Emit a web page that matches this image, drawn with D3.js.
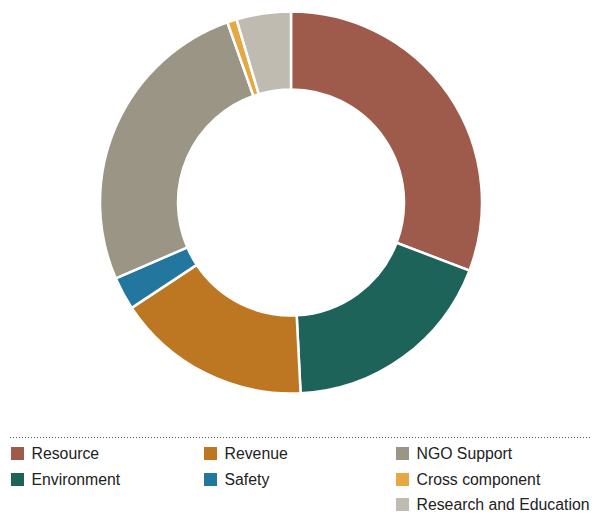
<!DOCTYPE html>
<html>
<head>
<meta charset="utf-8">
<script src="https://cdn.jsdelivr.net/npm/d3@7"></script>
<style>
  html, body { margin: 0; padding: 0; background: #fff; }
  svg { display: block; }
  text { font-family: "Liberation Sans", Arial, sans-serif; }
</style>
</head>
<body>
<svg id="chart" width="596" height="518"></svg>
<script>
// Share of spending by component (percent)
const categories = ["Resource", "Environment", "Revenue", "Safety", "NGO Support", "Cross component", "Research and Education"];
const shares = [30.8, 18.4, 16.5, 2.8, 26.1, 0.8, 4.6];
const colors = ["#9e5a4a", "#1d6359", "#bd7722", "#23779f", "#9a9584", "#e5a843", "#c0bbb0"];

// Legend layout order (three columns)
const legendOrder = ["Resource", "Revenue", "NGO Support", "Environment", "Safety", "Cross component", "Research and Education"];

const svg = d3.select("#chart");
const cx = 291, cy = 202.5, outerR = 191, innerR = 113;

const color = d3.scaleOrdinal().domain(categories).range(colors);

const data = categories.map((c, i) => ({ name: c, value: shares[i] }));

const pie = d3.pie().sort(null).value(d => d.value);
const arc = d3.arc().innerRadius(innerR).outerRadius(outerR);

svg.append("g")
  .attr("transform", `translate(${cx},${cy})`)
  .selectAll("path")
  .data(pie(data))
  .join("path")
  .attr("d", arc)
  .attr("fill", d => color(d.data.name))
  .attr("stroke", "#fff")
  .attr("stroke-width", 2.5);

// Dotted separator above the legend
svg.append("line")
  .attr("x1", 10).attr("x2", 590)
  .attr("y1", 437.5).attr("y2", 437.5)
  .attr("stroke", "#555")
  .attr("stroke-width", 1)
  .attr("stroke-dasharray", "1,2");

const colX = [11, 204, 396];
const rowY = [453.5, 479.5, 504.5];
const legend = svg.append("g");
legendOrder.forEach((name, i) => {
  const col = i < 6 ? i % 3 : 2;
  const row = i < 6 ? Math.floor(i / 3) : 2;
  const g = legend.append("g").attr("transform", `translate(${colX[col]},${rowY[row]})`);
  g.append("rect")
    .attr("x", 0).attr("y", -6.5)
    .attr("width", 13).attr("height", 13)
    .attr("fill", color(name));
  g.append("text")
    .attr("x", 20.5).attr("y", 0)
    .attr("dy", "0.36em")
    .attr("font-size", 15.8)
    .attr("fill", "#222")
    .text(name);
});
</script>
</body>
</html>
